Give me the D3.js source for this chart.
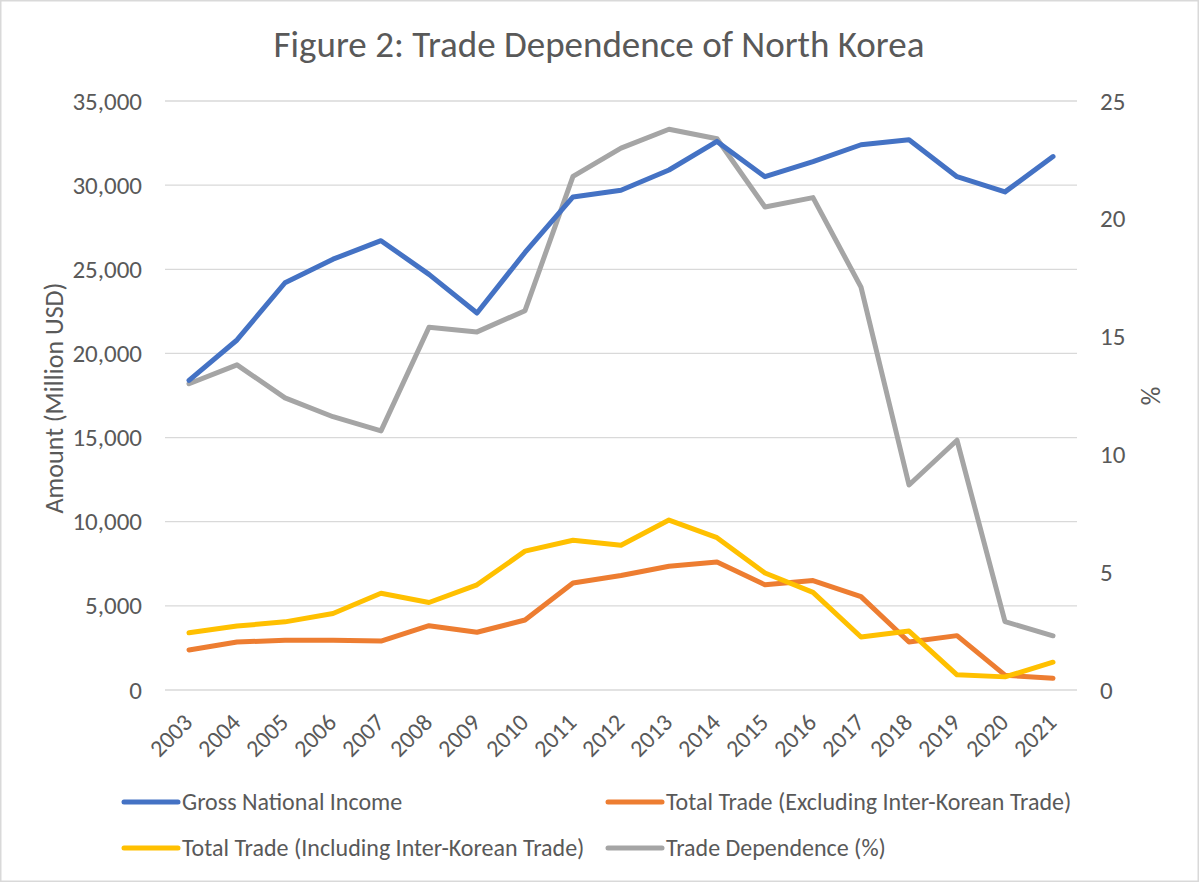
<!DOCTYPE html>
<html><head><meta charset="utf-8">
<script src="https://cdn.jsdelivr.net/npm/d3@7/dist/d3.min.js"></script>
<style>body{margin:0;background:#fff}svg{display:block}</style>
</head><body>
<script>
const years = ["2003","2004","2005","2006","2007","2008","2009","2010","2011","2012","2013","2014","2015","2016","2017","2018","2019","2020","2021"];
const gni = [18400,20800,24200,25600,26700,24700,22400,26000,29300,29700,30900,32600,30500,31400,32400,32700,30500,29600,31700];
const tradeExcl = [2380,2850,2950,2950,2910,3820,3430,4160,6360,6800,7350,7600,6250,6500,5550,2850,3230,880,700];
const tradeIncl = [3400,3800,4050,4550,5750,5200,6250,8250,8900,8600,10100,9050,6950,5800,3150,3500,900,780,1650];
const dependence = [13.0,13.8,12.4,11.6,11.0,15.4,15.2,16.1,21.8,23.0,23.8,23.4,20.5,20.9,17.1,8.7,10.6,2.9,2.3];
const leftTicks = [0,5000,10000,15000,20000,25000,30000,35000];
const rightTicks = [0,5,10,15,20,25];
const seriesNames = ["Gross National Income","Total Trade (Excluding Inter-Korean Trade)","Total Trade (Including Inter-Korean Trade)","Trade Dependence (%)"];
const colors = ["#4472C4","#ED7D31","#FFC000","#A5A5A5"];

const W=1200,H=883;
const FONT="Carlito, Calibri, Lato, sans-serif";
const TXT="#595959";
const svg=d3.select("body").append("svg").attr("width",W).attr("height",H).style("font-family",FONT);
svg.append("rect").attr("x",0.75).attr("y",0.75).attr("width",W-2.5).attr("height",H-2.5).attr("fill","#fff").attr("stroke","#d9d9d9").attr("stroke-width",1.5);

const L=165,R=1077,T=101,B=690;
const x=d3.scaleBand().domain(years).range([L,R]);
const yL=d3.scaleLinear().domain([0,35000]).range([B,T]);
const yR=d3.scaleLinear().domain([0,25]).range([B,T]);
const cx=d=>x(d)+x.bandwidth()/2;

svg.append("text").attr("x",599).attr("y",57).attr("text-anchor","middle").attr("font-size",37).attr("fill",TXT).text("Figure 2: Trade Dependence of North Korea");

// gridlines
svg.append("g").selectAll("line").data(leftTicks).join("line")
 .attr("x1",L).attr("x2",R).attr("y1",d=>yL(d)).attr("y2",d=>yL(d)).attr("stroke","#d9d9d9").attr("stroke-width",1.3);

// left axis
const gl=svg.append("g").attr("transform",`translate(${L},0)`).call(d3.axisLeft(yL).tickValues(leftTicks).tickSize(0).tickPadding(23).tickFormat(d3.format(",")));
gl.select(".domain").remove();
gl.selectAll("text").attr("font-size",25).attr("fill",TXT).style("font-family",FONT);

// right axis
const gr=svg.append("g").attr("transform",`translate(${R},0)`).call(d3.axisRight(yR).tickValues(rightTicks).tickSize(0).tickPadding(23));
gr.select(".domain").remove();
gr.selectAll("text").attr("font-size",25).attr("fill",TXT).style("font-family",FONT);

// x axis
const gx=svg.append("g").attr("transform",`translate(0,${B})`).call(d3.axisBottom(x).tickSize(0).tickPadding(0));
gx.select(".domain").remove();
gx.selectAll("text").attr("font-size",24).attr("fill",TXT).style("font-family",FONT)
 .attr("text-anchor","end").attr("dy","0.35em").attr("x",0).attr("y",0)
 .attr("transform","translate(-1,28) rotate(-45)");

// axis titles
svg.append("text").attr("transform","translate(63,398) rotate(-90)").attr("text-anchor","middle").attr("font-size",26).attr("fill",TXT).text("Amount (Million USD)");
svg.append("text").attr("transform","translate(1160,396) rotate(-90)").attr("text-anchor","middle").attr("font-size",26).attr("fill",TXT).text("%");

const lineL=d3.line().x((d,i)=>cx(years[i])).y(d=>yL(d));
const lineR=d3.line().x((d,i)=>cx(years[i])).y(d=>yR(d));
const g=svg.append("g").attr("fill","none").attr("stroke-width",5).attr("stroke-linejoin","round").attr("stroke-linecap","round");
g.append("path").attr("d",lineR(dependence)).attr("stroke",colors[3]);
g.append("path").attr("d",lineL(tradeExcl)).attr("stroke",colors[1]);
g.append("path").attr("d",lineL(tradeIncl)).attr("stroke",colors[2]);
g.append("path").attr("d",lineL(gni)).attr("stroke",colors[0]);

// legend
const legPos=[[124,802],[608,802],[124,848],[608,848]];
seriesNames.forEach((n,i)=>{
  const [lx,ly]=legPos[i];
  svg.append("line").attr("x1",lx).attr("x2",lx+54).attr("y1",ly).attr("y2",ly).attr("stroke",colors[i]).attr("stroke-width",5).attr("stroke-linecap","round");
  svg.append("text").attr("x",lx+58).attr("y",ly).attr("dy","0.35em").attr("font-size",24).attr("fill",TXT).text(n);
});
</script>
</body></html>
